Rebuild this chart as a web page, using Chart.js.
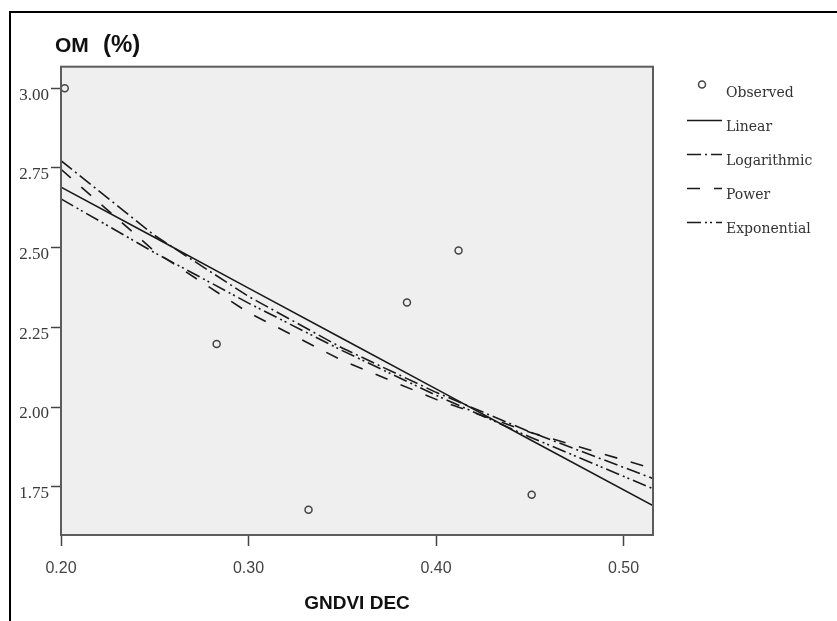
<!DOCTYPE html>
<html>
<head>
<meta charset="utf-8">
<script src="https://cdn.jsdelivr.net/npm/chart.js@4.4.1/dist/chart.umd.min.js"></script>
<style>
  html, body { margin: 0; padding: 0; background: #fff; }
  #wrap { position: relative; width: 837px; height: 621px; overflow: hidden; }
  #frame {
    position: absolute; left: 9px; top: 11px; width: 900px; height: 700px;
    border-left: 2px solid #000; border-top: 2px solid #000; pointer-events: none;
  }
</style>
</head>
<body>
<div id="wrap">
  <canvas id="omChart" width="837" height="621"></canvas>
  <div id="frame"></div>
</div>
<script>
// Observed OM values against December GNDVI
const obsX = [0.202, 0.283, 0.332, 0.3845, 0.412, 0.451];
const obsY = [3.00, 2.198, 1.678, 2.328, 2.491, 1.725];

// Fitted curves, sampled along the GNDVI range
const fitX = [0.20, 0.25, 0.30, 0.35, 0.40, 0.45, 0.516];
const linearY = [2.690, 2.532, 2.373, 2.215, 2.057, 1.898, 1.690];
const logY = [2.773, 2.538, 2.347, 2.185, 2.046, 1.922, 1.775];
const powerY = [2.746, 2.488, 2.296, 2.146, 2.024, 1.921, 1.806];
const expY = [2.653, 2.484, 2.326, 2.177, 2.037, 1.906, 1.743];

const xTicks = [0.20, 0.30, 0.40, 0.50];
const yTicks = [1.75, 2.00, 2.25, 2.50, 2.75, 3.00];

const toPoints = (xs, ys) => xs.map((x, i) => ({ x: x, y: ys[i] }));

function curve(label, ys, dash) {
    return {
        label: label,
        data: toPoints(fitX, ys),
        showLine: true,
        borderColor: '#1a1a1a',
        borderWidth: 1.6,
        borderDash: dash,
        pointRadius: 0,
        fill: false
    };
}

// Grey panel behind the plot, frame and heading on top
const panelPlugin = {
    id: 'panel',
    beforeDraw(chart) {
        const { ctx, chartArea: a } = chart;
        ctx.save();
        ctx.fillStyle = '#efefef';
        ctx.fillRect(a.left, a.top, a.right - a.left, a.bottom - a.top);
        ctx.restore();
    },
    afterDraw(chart) {
        const { ctx, chartArea: a } = chart;
        ctx.save();
        ctx.strokeStyle = '#5c5c5c';
        ctx.lineWidth = 2;
        ctx.strokeRect(a.left, a.top, a.right - a.left, a.bottom - a.top);

        ctx.fillStyle = '#111';
        ctx.textBaseline = 'alphabetic';
        ctx.font = 'bold 21px "Liberation Sans"';
        ctx.fillText('OM', 55, 52);
        ctx.font = 'bold 24px "Liberation Sans"';
        ctx.fillText('(%)', 103, 52);
        ctx.restore();
    }
};

// Key on the right: circle for the observations, dash pattern for each curve
const keyPlugin = {
    id: 'seriesKey',
    afterDraw(chart) {
        const ctx = chart.ctx;
        ctx.save();
        ctx.font = '14px "DejaVu Serif"';
        ctx.textBaseline = 'alphabetic';
        chart.data.datasets.forEach((ds, i) => {
            const base = 96.5 + i * 34;
            ctx.beginPath();
            if (ds.showLine === false) {
                ctx.arc(702, base - 12, 3.5, 0, Math.PI * 2);
                ctx.lineWidth = 1.5;
                ctx.strokeStyle = '#444';
            } else {
                ctx.setLineDash(ds.borderDash || []);
                ctx.moveTo(687, base - 10);
                ctx.lineTo(722, base - 10);
                ctx.lineWidth = ds.borderWidth;
                ctx.strokeStyle = ds.borderColor;
            }
            ctx.stroke();
            ctx.setLineDash([]);
            ctx.fillStyle = '#333';
            ctx.fillText(ds.label, 726, base);
        });
        ctx.restore();
    }
};

new Chart(document.getElementById('omChart'), {
    type: 'scatter',
    data: {
        datasets: [
            {
                label: 'Observed',
                data: toPoints(obsX, obsY),
                showLine: false,
                pointStyle: 'circle',
                pointRadius: 3.5,
                pointBorderWidth: 1.5,
                pointBorderColor: '#444',
                pointBackgroundColor: 'rgba(0,0,0,0)'
            },
            curve('Linear', linearY, []),
            curve('Logarithmic', logY, [14, 4, 2, 4]),
            curve('Power', powerY, [13, 14]),
            curve('Exponential', expY, [14, 4, 2, 3, 2, 4])
        ]
    },
    options: {
        responsive: false,
        animation: false,
        layout: { padding: { top: 66.7, right: 184, bottom: 0, left: 0 } },
        plugins: {
            legend: { display: false },
            tooltip: { enabled: false }
        },
        scales: {
            x: {
                type: 'linear',
                min: 0.2,
                max: 0.5157,
                afterBuildTicks: s => { s.ticks = xTicks.map(v => ({ value: v })); },
                afterFit: s => { s.height = 86; },
                grid: { drawOnChartArea: false, tickLength: 11, tickColor: '#444', tickWidth: 1.5 },
                border: { display: false },
                ticks: {
                    padding: 13,
                    color: '#444',
                    maxRotation: 0,
                    autoSkip: false,
                    font: { family: 'Liberation Sans', size: 16 },
                    callback: v => v.toFixed(2)
                },
                title: {
                    display: true,
                    text: 'GNDVI DEC',
                    color: '#111',
                    font: { family: 'Liberation Sans', size: 19, weight: 'bold' },
                    padding: { top: 0, bottom: 6 }
                }
            },
            y: {
                type: 'linear',
                min: 1.5985,
                max: 3.0677,
                afterBuildTicks: s => { s.ticks = yTicks.map(v => ({ value: v })); },
                afterFit: s => { s.width = 61; },
                grid: { drawOnChartArea: false, tickLength: 10, tickColor: '#444', tickWidth: 1.5 },
                border: { display: false },
                ticks: {
                    padding: 2,
                    labelOffset: 7,
                    color: '#3a3a3a',
                    font: { family: 'Liberation Serif', size: 17 },
                    callback: v => v.toFixed(2)
                }
            }
        }
    },
    plugins: [panelPlugin, keyPlugin]
});
</script>
</body>
</html>
